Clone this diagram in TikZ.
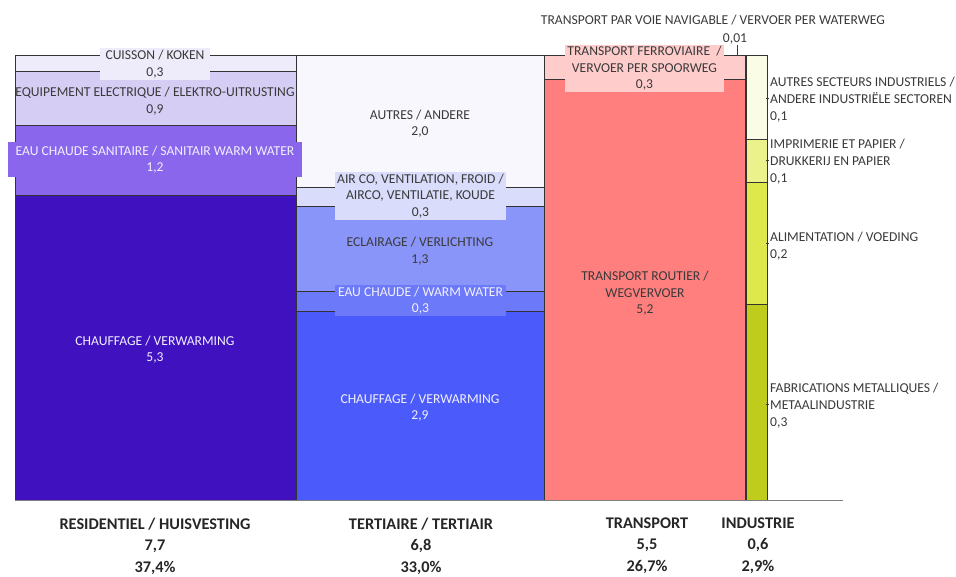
\documentclass[tikz,border=0pt]{standalone}
\usepackage{fontspec}
\setmainfont{Carlito}
\definecolor{segline}{HTML}{333333}
\definecolor{txt}{HTML}{3A3A3A}
\definecolor{wtxt}{HTML}{F2F0FF}
\definecolor{resA}{HTML}{EEEBFA}
\definecolor{resB}{HTML}{D6CDF5}
\definecolor{resC}{HTML}{8A66EC}
\definecolor{resD}{HTML}{3F11BF}
\definecolor{terA}{HTML}{F8F7FE}
\definecolor{terB}{HTML}{D9DCFB}
\definecolor{terC}{HTML}{8A95F9}
\definecolor{terD}{HTML}{6C7AF9}
\definecolor{terE}{HTML}{4B5BFB}
\definecolor{trA}{HTML}{FFCCCC}
\definecolor{trB}{HTML}{FF7F7F}
\definecolor{inA}{HTML}{FBFCE5}
\definecolor{inB}{HTML}{EBF28C}
\definecolor{inC}{HTML}{DEE84B}
\definecolor{inD}{HTML}{BFCC1B}
\definecolor{axis}{HTML}{7F7F7F}
\begin{document}
\begin{tikzpicture}[x=1pt,y=-1pt,
  seg/.style={draw=segline,line width=0.7pt},
  lbl/.style={font=\fontsize{13.6}{16.5}\selectfont,align=center,text=txt,inner sep=1pt,yshift=-1.5pt},
  wlbl/.style={lbl,text=wtxt},
  boxlbl/.style={lbl,inner sep=0pt,minimum height=#1},
  ilbl/.style={font=\fontsize{13.6}{16.8}\selectfont,align=left,text=txt,inner sep=1pt,anchor=west,yshift=-1.5pt},
  cat/.style={font=\fontsize{16.3}{21}\bfseries\selectfont,align=center,text=black!85},
  tick/.style={draw=txt,line width=0.5pt}]
\useasboundingbox (0,0) rectangle (956,576);
% residential
\filldraw[seg,fill=resD] (15,195) rectangle (296,500);
\filldraw[seg,fill=resC] (15,125) rectangle (296,195);
\filldraw[seg,fill=resB] (15,71) rectangle (296,125);
\filldraw[seg,fill=resA] (15,55) rectangle (296,71);
% tertiary
\filldraw[seg,fill=terE] (296,311) rectangle (544,500);
\filldraw[seg,fill=terD] (296,291) rectangle (544,311);
\filldraw[seg,fill=terC] (296,206) rectangle (544,291);
\filldraw[seg,fill=terB] (296,187) rectangle (544,206);
\filldraw[seg,fill=terA] (296,55) rectangle (544,187);
% transport
\filldraw[seg,fill=trB] (544,79) rectangle (745,500);
\filldraw[seg,fill=trA] (544,55) rectangle (745,79);
% industry
\filldraw[seg,fill=inD] (746,304) rectangle (767,500);
\filldraw[seg,fill=inC] (746,182) rectangle (767,304);
\filldraw[seg,fill=inB] (746,139) rectangle (767,182);
\filldraw[seg,fill=inA] (746,55) rectangle (767,139);
% axis
\draw[draw=axis,line width=1pt] (15,500) -- (843,500);
% residential labels
\node[boxlbl=32pt,fill=resA,minimum width=110pt] (cuis) at (155,62.5) {CUISSON / KOKEN\\0,3};
\node[lbl] (equip) at (155,99.5) {EQUIPEMENT ELECTRIQUE / ELEKTRO-UITRUSTING\\0,9};
\node[boxlbl=35pt,fill=resC,minimum width=294pt,text=wtxt] (ecs) at (155,158) {EAU CHAUDE SANITAIRE / SANITAIR WARM WATER\\1,2};
\node[wlbl] (chres) at (155,348) {CHAUFFAGE / VERWARMING\\5,3};
% tertiary labels
\node[lbl] (autres) at (420,122) {AUTRES / ANDERE\\2,0};
\node[boxlbl=48pt,fill=terB,minimum width=171pt] (airco) at (420.5,194.5) {AIR CO, VENTILATION, FROID /\\AIRCO, VENTILATIE, KOUDE\\0,3};
\node[lbl] (ecl) at (420,249.5) {ECLAIRAGE / VERLICHTING\\1,3};
\node[boxlbl=31pt,fill=terD,minimum width=171pt,text=wtxt] (ecter) at (420.5,299) {EAU CHAUDE / WARM WATER\\0,3};
\node[wlbl] (chter) at (420,406) {CHAUFFAGE / VERWARMING\\2,9};
% transport labels
\node[boxlbl=47pt,fill=trA,minimum width=159pt] (ferro) at (644.5,67) {TRANSPORT FERROVIAIRE~~/\\VERVOER PER SPOORWEG\\0,3};
\node[lbl] (fluv) at (713,19) {TRANSPORT PAR VOIE NAVIGABLE / VERVOER PER WATERWEG};
\node[lbl] (fluvv) at (735,37) {0,01};
\coordinate (fluvtop) at (737,45);
\coordinate (fluvbar) at (737,55);
\draw[tick] (fluvtop) -- (fluvbar);
\node[lbl] (route) at (645,292) {TRANSPORT ROUTIER /\\WEGVERVOER\\5,2};
% industry labels
\node[ilbl] (inda) at (769,98) {AUTRES SECTEURS INDUSTRIELS /\\ANDERE INDUSTRIËLE SECTOREN\\0,1};
\node[ilbl] (indb) at (769,160) {IMPRIMERIE ET PAPIER /\\DRUKKERIJ EN PAPIER\\0,1};
\node[ilbl] (indc) at (769,245) {ALIMENTATION / VOEDING\\0,2};
\node[ilbl] (indd) at (769,404) {FABRICATIONS METALLIQUES /\\METAALINDUSTRIE\\0,3};
\coordinate (ta) at (766,98);
\coordinate (tb) at (766,160);
\coordinate (tc) at (766,243);
\coordinate (td) at (766,404);
\draw[tick] (ta) -- (inda.west |- ta);
\draw[tick] (tb) -- (indb.west |- tb);
\draw[tick] (tc) -- (indc.west |- tc);
\draw[tick] (td) -- (indd.west |- td);
% category labels
\node[cat] (cres) at (155,546) {RESIDENTIEL / HUISVESTING\\7,7\\[1pt]37,4\%};
\node[cat] (cter) at (421,546) {TERTIAIRE / TERTIAIR\\6,8\\[1pt]33,0\%};
\node[cat] (ctr) at (647,546) {TRANSPORT\\5,5\\[1pt]26,7\%};
\node[cat] (cind) at (758,546) {INDUSTRIE\\0,6\\[1pt]2,9\%};
\end{tikzpicture}
\end{document}
